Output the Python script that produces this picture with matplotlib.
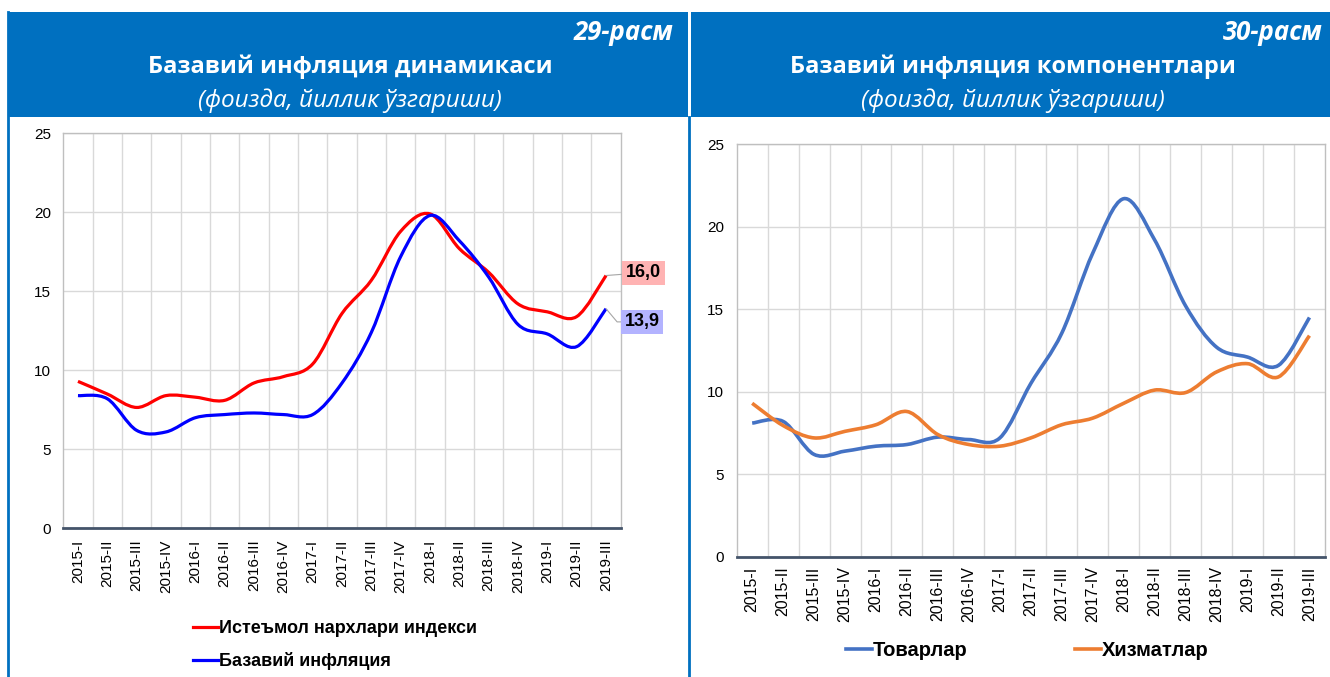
"""Core inflation charts (figures 29 and 30), recreated with matplotlib."""

import matplotlib
matplotlib.use("Agg")
import matplotlib.pyplot as plt
from matplotlib.lines import Line2D
from matplotlib.patches import PathPatch, Rectangle
from matplotlib.path import Path

# --- Data ---
quarters = [
    "2015-I", "2015-II", "2015-III", "2015-IV",
    "2016-I", "2016-II", "2016-III", "2016-IV",
    "2017-I", "2017-II", "2017-III", "2017-IV",
    "2018-I", "2018-II", "2018-III", "2018-IV",
    "2019-I", "2019-II", "2019-III",
]
cpi = [9.3, 8.5, 7.65, 8.4, 8.3, 8.1, 9.2, 9.6, 10.4, 13.6, 15.7, 18.8,
       19.9, 17.7, 16.2, 14.2, 13.7, 13.4, 16.0]
core = [8.4, 8.2, 6.2, 6.1, 7.0, 7.2, 7.3, 7.2, 7.2, 9.2, 12.4, 17.2,
        19.8, 18.2, 15.9, 12.9, 12.3, 11.5, 13.9]
goods = [8.1, 8.2, 6.2, 6.4, 6.7, 6.8, 7.25, 7.1, 7.2, 10.5, 13.55, 18.4,
         21.7, 19.2, 15.2, 12.7, 12.1, 11.6, 14.5]
services = [9.3, 7.95, 7.2, 7.6, 8.0, 8.8, 7.4, 6.8, 6.7, 7.2, 8.0, 8.4,
            9.3, 10.1, 9.95, 11.2, 11.7, 10.9, 13.4]

W, H = 1330, 677
BAND = "#0070c0"
GRID = "#d9d9d9"
AXIS = "#44546a"
TXT = ["Liberation Sans", "DejaVu Sans"]
HEAD = ["Open Sans", "DejaVu Sans"]


def fx(x):
    return x / W


def fy(y):
    return 1 - y / H


def smooth_path(ys):
    """Excel-like smoothed line as cubic Bezier segments through the points."""
    pts = list(enumerate(ys))
    verts = [pts[0]]
    codes = [Path.MOVETO]
    n = len(pts)
    for i in range(n - 1):
        p0 = pts[max(i - 1, 0)]
        p1 = pts[i]
        p2 = pts[i + 1]
        p3 = pts[min(i + 2, n - 1)]
        c1 = (p1[0] + (p2[0] - p0[0]) / 6, p1[1] + (p2[1] - p0[1]) / 6)
        c2 = (p2[0] - (p3[0] - p1[0]) / 6, p2[1] - (p3[1] - p1[1]) / 6)
        verts += [c1, c2, p2]
        codes += [Path.CURVE4] * 3
    return Path(verts, codes)


def style_axes(ax, label_pad, label_size):
    n = len(quarters)
    ax.set_xlim(-0.5, n - 0.5)
    ax.set_ylim(0, 25)
    ax.set_yticks(range(0, 26, 5))
    ax.set_xticks(range(n))
    ax.set_xticklabels(quarters, rotation=90, family=TXT, fontsize=label_size)
    ax.set_xticks([i + 0.5 for i in range(n - 1)], minor=True)
    ax.tick_params(axis="both", which="both", length=0)
    ax.tick_params(axis="x", pad=label_pad)
    ax.tick_params(axis="y", pad=9, labelsize=11)
    for lab in ax.get_yticklabels():
        lab.set_family(TXT)
    ax.grid(True, axis="y", color=GRID, lw=1)
    ax.grid(True, axis="x", which="minor", color=GRID, lw=1)
    ax.set_axisbelow(True)
    for side in ("left", "top", "right"):
        ax.spines[side].set_color("#bfbfbf")
        ax.spines[side].set_linewidth(1)
    ax.spines["bottom"].set_color(AXIS)
    ax.spines["bottom"].set_linewidth(2)


def add_line(ax, ys, color, lw):
    ax.add_patch(PathPatch(smooth_path(ys), fill=False, edgecolor=color,
                           lw=lw, capstyle="butt", joinstyle="round", zorder=3))


fig = plt.figure(figsize=(W / 100, H / 100), dpi=100)

# --- Header bands and panel borders ---
fig.add_artist(Rectangle((fx(8), fy(117)), fx(688) - fx(8), fy(12) - fy(117),
                         transform=fig.transFigure, color=BAND, lw=0))
fig.add_artist(Rectangle((fx(691), fy(117)), fx(1330) - fx(691), fy(12) - fy(117),
                         transform=fig.transFigure, color=BAND, lw=0))
fig.add_artist(Line2D([fx(8), fx(8)], [fy(12), 0], transform=fig.transFigure,
                      color=BAND, lw=2))
fig.add_artist(Line2D([fx(689), fx(689)], [fy(117), 0], transform=fig.transFigure,
                      color=BAND, lw=2))

headers = [
    (673, 350, "29-расм", "Базавий инфляция динамикаси"),
    (1323, 1013, "30-расм", "Базавий инфляция компонентлари"),
]
for right_x, mid_x, num, title in headers:
    fig.text(fx(right_x), fy(32), num, ha="right", va="center", color="white",
             fontsize=18.5, fontweight="bold", fontstyle="italic", family=HEAD)
    fig.text(fx(mid_x), fy(67), title, ha="center", va="center", color="white",
             fontsize=17, fontweight="bold", family=HEAD)
    fig.text(fx(mid_x), fy(101), "(фоизда, йиллик ўзгариши)", ha="center",
             va="center", color="white", fontsize=17.5, fontstyle="italic",
             family=HEAD)

# --- Figure 29: CPI vs core inflation ---
ax1 = fig.add_axes([0.0476, 0.2196, 0.4191, 0.5835])
style_axes(ax1, label_pad=8, label_size=11)
add_line(ax1, cpi, "#ff0000", 2.3)
add_line(ax1, core, "#0000ff", 2.3)

last = len(quarters) - 1
ax1.annotate(f"{cpi[-1]:.1f}".replace(".", ","), xy=(last, cpi[-1]),
             xytext=(27, 2), textcoords="offset points", ha="center", va="center",
             fontsize=13, fontweight="bold", family=TXT, annotation_clip=False,
             bbox=dict(boxstyle="square,pad=0.2", fc="#ffb3b3", ec="none"),
             arrowprops=dict(arrowstyle="-", color="#a6a6a6", lw=0.8,
                             shrinkA=0, shrinkB=0))
ax1.annotate(f"{core[-1]:.1f}".replace(".", ","), xy=(last, core[-1]),
             xytext=(26, -9.5), textcoords="offset points", ha="center", va="center",
             fontsize=13, fontweight="bold", family=TXT, annotation_clip=False,
             bbox=dict(boxstyle="square,pad=0.2", fc="#b3b3ff", ec="none"),
             arrowprops=dict(arrowstyle="-", color="#a6a6a6", lw=0.8,
                             shrinkA=0, shrinkB=0,
                             connectionstyle="angle,angleA=0,angleB=-50,rad=0"))

h1 = [Line2D([], [], color="#ff0000", lw=2.3), Line2D([], [], color="#0000ff", lw=2.3)]
fig.legend(h1, ["Истеъмол нархлари индекси", "Базавий инфляция"],
           loc="upper left", bbox_to_anchor=(fx(193), fy(620)), frameon=False,
           handlelength=1.4, handletextpad=0.05, labelspacing=0.85,
           borderpad=0, borderaxespad=0,
           prop=dict(family=TXT, weight="bold", size=13))

# --- Figure 30: goods vs services ---
ax2 = fig.add_axes([0.5539, 0.1777, 0.4423, 0.6092])
style_axes(ax2, label_pad=7, label_size=11.5)
add_line(ax2, goods, "#4472c4", 2.6)
add_line(ax2, services, "#ed7d31", 2.6)

h2 = [Line2D([], [], color="#4472c4", lw=2.6), Line2D([], [], color="#ed7d31", lw=2.6)]
fig.legend(h2, ["Товарлар", "Хизматлар"], loc="center left",
           bbox_to_anchor=(fx(846), fy(651)), frameon=False, ncol=2,
           handlelength=1.3, handletextpad=0.05, columnspacing=5.3,
           borderpad=0, borderaxespad=0,
           prop=dict(family=TXT, weight="bold", size=14.5))

fig.savefig("out.png", dpi=100)
